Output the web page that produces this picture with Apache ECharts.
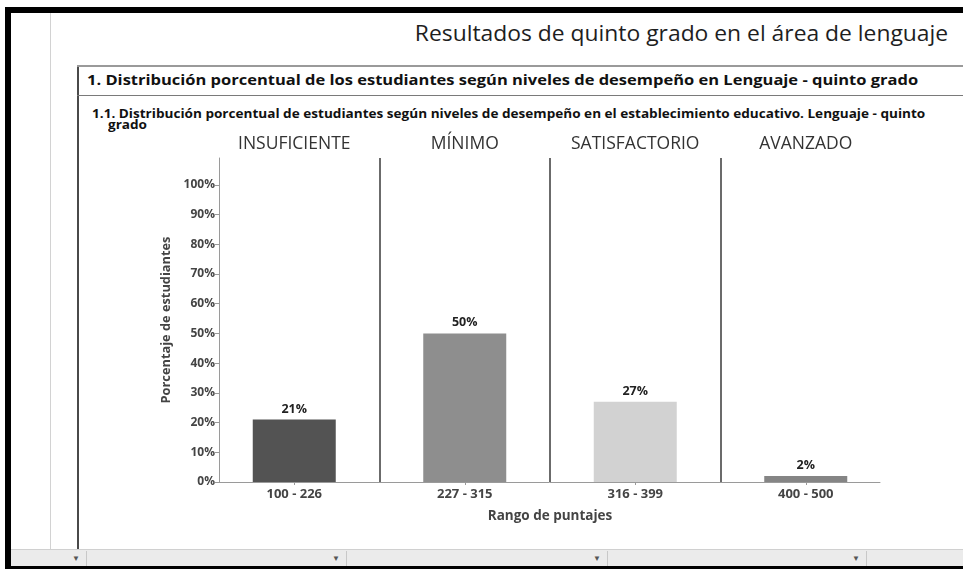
<!DOCTYPE html>
<html>
<head>
<meta charset="utf-8">
<script src="https://cdn.jsdelivr.net/npm/echarts@6/dist/echarts.min.js"></script>
<style>
  html, body { margin: 0; padding: 0; background: #fff; }
  #page { position: relative; width: 963px; height: 569px; overflow: hidden; font-family: 'Open Sans', sans-serif; }
  .abs { position: absolute; }
  .blk { background: #000; }
  .title { right: 15px; top: 19px; font-size: 21px; color: #1e1e1e; white-space: nowrap; transform: scaleX(1.088); transform-origin: right top; }
  .h1 { left: 87px; top: 70px; font-size: 14.5px; font-weight: bold; color: #111; white-space: nowrap; transform: scaleX(1.137); transform-origin: left top; }
  .h2 { font-size: 11.5px; font-weight: bold; color: #111; white-space: nowrap; transform: scaleX(1.18); transform-origin: left top; }
  .bar { left: 11px; top: 549px; width: 952px; height: 17px; background: #ebebeb; border-top: 1px solid #d0d0d0; }
  .seg { top: 551px; height: 15px; border-left: 1px solid #c8c8c8; }
  .arr { top: 552px; font-size: 8px; color: #555; }
  #chart { position: absolute; left: 0; top: 0; width: 963px; height: 569px; }
</style>
</head>
<body>
<div id="page">
  <div class="abs" style="left:50px;top:13px;width:1px;height:536px;background:#d2d2d2"></div>
  <div class="abs" style="left:77px;top:65px;width:2px;height:484px;background:#4a4a4a"></div>
  <div class="abs" style="left:77px;top:65px;width:886px;height:0;border-top:2px solid #9a9a9a"></div>
  <div class="abs" style="left:77px;top:95px;width:886px;height:0;border-top:1px solid #7a7a7a"></div>

  <div class="abs title">Resultados de quinto grado en el área de lenguaje</div>
  <div class="abs h1">1. Distribución porcentual de los estudiantes según niveles de desempeño en Lenguaje - quinto grado</div>
  <div class="abs h2" style="left:92px;top:106px">1.1. Distribución porcentual de estudiantes según niveles de desempeño en el establecimiento educativo. Lenguaje - quinto</div>
  <div class="abs h2" style="left:108px;top:117px">grado</div>

  <div class="abs bar"></div>
  <div class="abs seg" style="left:86px"></div>
  <div class="abs seg" style="left:346px"></div>
  <div class="abs seg" style="left:607px"></div>
  <div class="abs seg" style="left:866px"></div>
  <div class="abs arr" style="left:72px">▼</div>
  <div class="abs arr" style="left:332px">▼</div>
  <div class="abs arr" style="left:593px">▼</div>
  <div class="abs arr" style="left:852px">▼</div>

  <div class="abs blk" style="left:5px;top:7px;width:958px;height:6px"></div>
  <div class="abs blk" style="left:5px;top:7px;width:6px;height:562px"></div>
  <div class="abs blk" style="left:5px;top:566px;width:958px;height:3px"></div>

  <div id="chart"></div>
</div>
<script>
// datos del grafico
const rangos = ['100 - 226', '227 - 315', '316 - 399', '400 - 500']
const niveles = ['INSUFICIENTE', 'MÍNIMO', 'SATISFACTORIO', 'AVANZADO']
const porcentajes = [21, 50, 27, 2]
const yTicks = [0, 10, 20, 30, 40, 50, 60, 70, 80, 90, 100]

const barColors = ['#535353', '#8e8e8e', '#d2d2d2', '#858585']
const boldText = { fontFamily: 'Open Sans', fontWeight: 'bold', color: '#444' }

const chart = echarts.init(document.getElementById('chart'))
chart.setOption({
  animation: false,
  color: barColors,
  grid: [
    { left: 209, right: 72, top: 158, bottom: 87 },
    { left: 219, right: 83, top: 158, bottom: 87 }
  ],
  xAxis: [
    {
      gridIndex: 0,
      type: 'category',
      data: rangos,
      position: 'bottom',
      axisLine: { show: false },
      axisTick: { show: true, alignWithLabel: true, length: 3, lineStyle: { color: '#999' } },
      axisLabel: { ...boldText, fontSize: 13, margin: 6, interval: 0 },
      splitLine: {
        show: true,
        showMinLine: false,
        showMaxLine: false,
        lineStyle: { color: '#3a3a3a', width: 1.5 }
      },
      name: 'Rango de puntajes',
      nameLocation: 'middle',
      nameGap: 27,
      nameTextStyle: { ...boldText, fontSize: 13.5 }
    },
    {
      gridIndex: 0,
      type: 'category',
      data: niveles,
      position: 'top',
      axisLine: { show: false },
      axisTick: { show: false },
      axisLabel: { fontFamily: 'Open Sans', fontSize: 17.5, color: '#333', margin: 5, interval: 0, hideOverlap: false }
    },
    {
      gridIndex: 1,
      type: 'category',
      data: rangos,
      axisLine: { show: true, lineStyle: { color: '#9a9a9a' } },
      axisTick: { show: false },
      axisLabel: { show: false }
    }
  ],
  yAxis: [
    { gridIndex: 0, type: 'value', min: 0, max: 109, show: false },
    {
      gridIndex: 1,
      type: 'value',
      min: 0,
      max: 109,
      axisLine: { show: true, lineStyle: { color: '#9a9a9a' } },
      axisTick: { show: true, customValues: yTicks, length: 4, lineStyle: { color: '#9a9a9a' } },
      axisLabel: { ...boldText, fontSize: 12, margin: 4, customValues: yTicks, formatter: '{value}%' },
      splitLine: { show: false },
      name: 'Porcentaje de estudiantes',
      nameLocation: 'middle',
      nameGap: 46,
      nameRotate: 90,
      nameTextStyle: { ...boldText, fontSize: 12.8 }
    }
  ],
  series: [
    {
      type: 'bar',
      xAxisIndex: 0,
      yAxisIndex: 0,
      data: porcentajes,
      colorBy: 'data',
      barWidth: 83,
      label: {
        show: true,
        position: 'top',
        distance: 4,
        formatter: '{c}%',
        fontFamily: 'Open Sans',
        fontWeight: 'bold',
        fontSize: 12.5,
        color: '#222'
      }
    }
  ]
})
</script>
</body>
</html>
